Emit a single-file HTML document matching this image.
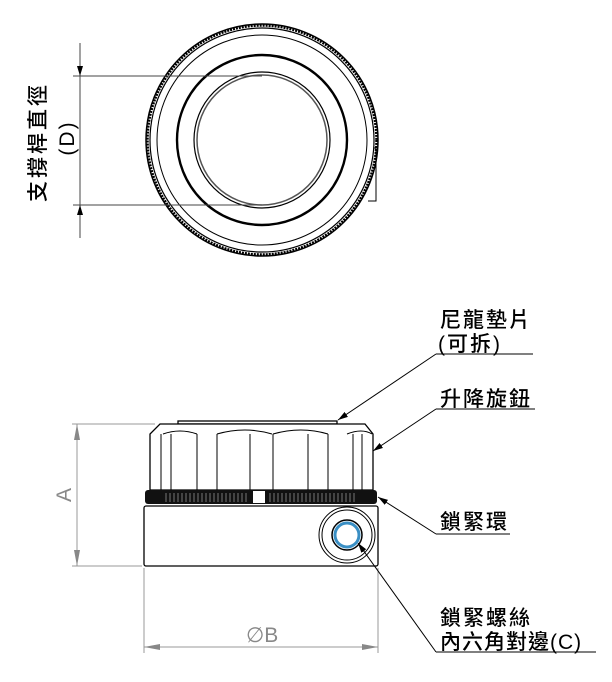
<!DOCTYPE html>
<html><head><meta charset="utf-8"><style>
html,body{margin:0;padding:0;background:#fff}
svg{display:block}
.t{font-family:"Liberation Sans","Noto Sans CJK TC",sans-serif;font-size:21px;fill:#000;font-weight:500;letter-spacing:2px}
</style></head><body>
<svg width="612" height="682" viewBox="0 0 612 682" xmlns="http://www.w3.org/2000/svg">
<defs>
<marker id="ab" markerWidth="10" markerHeight="6" refX="10" refY="3" orient="auto" markerUnits="userSpaceOnUse"><path d="M0,0 L10,3 L0,6 z" fill="#000"/></marker>
<marker id="ag" markerWidth="16" markerHeight="6" refX="16" refY="3" orient="auto" markerUnits="userSpaceOnUse"><path d="M0,0 L16,3 L0,6 z" fill="#888"/></marker>
</defs>
<!-- Top view -->
<g fill="none" stroke="#000">
<circle cx="262" cy="140" r="116" stroke-width="1.5"/>
<circle cx="262" cy="140" r="114.5" stroke-width="2.5" stroke-dasharray="2 1"/>
<circle cx="262" cy="140" r="112" stroke-width="1.2"/>
<circle cx="262" cy="140" r="105" stroke-width="1"/>
<circle cx="262" cy="140" r="85" stroke-width="2.4"/>
<circle cx="262" cy="140" r="68" stroke-width="1.2"/>
<circle cx="262" cy="140" r="65" stroke-width="1.5" stroke="#555"/>
<path d="M374,148 L376,148 L376,201 L368,201" stroke-width="1"/>
</g>
<g stroke="#444" stroke-width="1">
<line x1="73" y1="76" x2="262" y2="76"/>
<line x1="73" y1="205" x2="262" y2="205"/>
<line x1="80" y1="43" x2="80" y2="76" marker-end="url(#ab)"/>
<line x1="80" y1="76" x2="80" y2="205"/>
<line x1="80" y1="238" x2="80" y2="205" marker-end="url(#ab)"/>
</g>
<text class="t" transform="translate(45,142) rotate(-90)" text-anchor="middle" style="letter-spacing:3px">支撐桿直徑</text>
<text class="t" transform="translate(74,138) rotate(-90)" text-anchor="middle">(D)</text>
<!-- Side view -->
<g fill="none" stroke="#000" stroke-width="1.3">
<rect x="178" y="421" width="159" height="3" fill="#fff"/>
<path d="M160,424 L365,424 L373,434 L373,490 L150,490 L150,434 Z" fill="#fff"/>
<path d="M163,434 Q180,428 197,434 M217,434 Q245,426 272,434 M273,434 Q301,426 328,434 M347,434 Q362,428 372,434" stroke-width="1"/>
<line x1="161" y1="434" x2="161" y2="490" stroke-width="1"/>
<line x1="171" y1="434" x2="171" y2="490" stroke-width="1"/>
<line x1="197" y1="434" x2="197" y2="490" stroke-width="1"/>
<line x1="217" y1="434" x2="217" y2="490" stroke-width="1"/>
<line x1="250" y1="434" x2="250" y2="490" stroke-width="1"/>
<line x1="273" y1="434" x2="273" y2="490" stroke-width="1"/>
<line x1="308" y1="434" x2="308" y2="490" stroke-width="1"/>
<line x1="328" y1="434" x2="328" y2="490" stroke-width="1"/>
<line x1="353" y1="434" x2="353" y2="490" stroke-width="1"/>
<line x1="362" y1="434" x2="362" y2="490" stroke-width="1"/>
</g>
<rect x="145" y="490" width="232" height="14" rx="3" fill="#111"/>
<g stroke="#777" stroke-width="1">
<path d="M166,493 V502 M170,493 V502 M174,493 V502 M178,493 V502 M182,493 V502 M186,493 V502 M190,493 V502 M194,493 V502 M198,493 V502 M202,493 V502 M206,493 V502 M210,493 V502 M214,493 V502 M218,493 V502 M222,493 V502 M226,493 V502 M230,493 V502 M234,493 V502 M238,493 V502 M242,493 V502 M246,493 V502 M270,493 V502 M274,493 V502 M278,493 V502 M282,493 V502 M286,493 V502 M290,493 V502 M294,493 V502 M298,493 V502 M302,493 V502 M306,493 V502 M310,493 V502 M314,493 V502 M318,493 V502 M322,493 V502 M326,493 V502 M330,493 V502 M334,493 V502 M338,493 V502 M342,493 V502 M346,493 V502 M350,493 V502 M354,493 V502"/>
</g>
<rect x="253" y="491" width="12" height="12" fill="#fff"/>
<rect x="144" y="506" width="234" height="60" rx="2" fill="#fff" stroke="#000" stroke-width="1.3"/>
<g fill="none" stroke="#000" stroke-width="1">
<circle cx="347" cy="535" r="28"/>
<circle cx="347" cy="535" r="25"/>
<circle cx="347" cy="535" r="15" stroke-width="1.5"/>
</g>
<circle cx="347" cy="535" r="12" fill="#fff" stroke="#3a8fc4" stroke-width="3"/>
<!-- dims A, B -->
<g stroke="#999" stroke-width="1">
<line x1="72" y1="424" x2="155" y2="424"/>
<line x1="72" y1="566" x2="142" y2="566"/>
<line x1="77" y1="424" x2="77" y2="566"/>
<line x1="77" y1="460" x2="77" y2="424" marker-end="url(#ag)"/>
<line x1="77" y1="530" x2="77" y2="566" marker-end="url(#ag)"/>
<line x1="144" y1="568" x2="144" y2="653"/>
<line x1="378" y1="568" x2="378" y2="653"/>
<line x1="144" y1="647" x2="378" y2="647"/>
<line x1="200" y1="647" x2="144" y2="647" marker-end="url(#ag)"/>
<line x1="320" y1="647" x2="378" y2="647" marker-end="url(#ag)"/>
</g>
<text transform="translate(71,495) rotate(-90)" text-anchor="middle" style="font-family:'Liberation Sans',sans-serif;font-size:21px;fill:#888">A</text>
<text x="246" y="642" style="font-family:'Liberation Sans','DejaVu Sans',sans-serif;font-size:21px;fill:#888">∅B</text>
<!-- labels -->
<text class="t" x="440" y="327">尼龍墊片</text>
<text class="t" x="438" y="351">(可拆)</text>
<text class="t" x="440" y="406">升降旋鈕</text>
<text class="t" x="440" y="529">鎖緊環</text>
<text class="t" x="440" y="625">鎖緊螺絲</text>
<text class="t" x="440" y="649" style="letter-spacing:1px">內六角對邊(C)</text>
<g stroke="#000" stroke-width="1" fill="none">
<line x1="436" y1="354" x2="533" y2="354"/>
<line x1="436" y1="354" x2="338" y2="420" marker-end="url(#ab)"/>
<line x1="436" y1="409" x2="535" y2="409"/>
<line x1="436" y1="409" x2="373" y2="451" marker-end="url(#ab)"/>
<line x1="436" y1="534" x2="510" y2="534"/>
<line x1="436" y1="534" x2="378" y2="497" marker-end="url(#ab)"/>
<line x1="436" y1="652" x2="596" y2="652"/>
<line x1="436" y1="652" x2="358" y2="543" marker-end="url(#ab)"/>
</g>
</svg>
</body></html>
